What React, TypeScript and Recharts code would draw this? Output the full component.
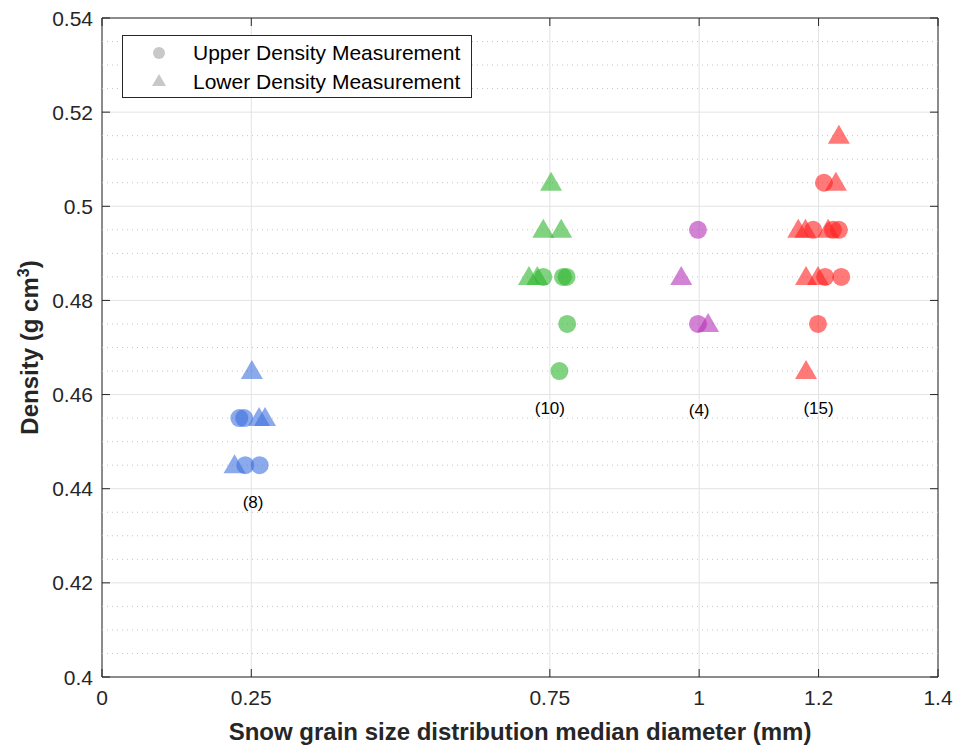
import {
  ScatterChart,
  Scatter,
  XAxis,
  YAxis,
  CartesianGrid,
  ReferenceLine,
  ReferenceArea,
  Legend,
} from 'recharts';

// grain size (mm) vs density, one pair of arrays per grain class
const blueUpper = [
  { x: 0.23, y: 0.455 },
  { x: 0.238, y: 0.455 },
  { x: 0.24, y: 0.445 },
  { x: 0.264, y: 0.445 },
];
const blueLower = [
  { x: 0.251, y: 0.465 },
  { x: 0.263, y: 0.455 },
  { x: 0.273, y: 0.455 },
  { x: 0.222, y: 0.445 },
];
const greenUpper = [
  { x: 0.739, y: 0.485 },
  { x: 0.772, y: 0.485 },
  { x: 0.778, y: 0.485 },
  { x: 0.779, y: 0.475 },
  { x: 0.766, y: 0.465 },
];
const greenLower = [
  { x: 0.752, y: 0.505 },
  { x: 0.739, y: 0.495 },
  { x: 0.769, y: 0.495 },
  { x: 0.715, y: 0.485 },
  { x: 0.729, y: 0.485 },
];
const purpleUpper = [
  { x: 0.998, y: 0.495 },
  { x: 0.998, y: 0.475 },
];
const purpleLower = [
  { x: 0.97, y: 0.485 },
  { x: 1.015, y: 0.475 },
];
const redUpper = [
  { x: 1.209, y: 0.505 },
  { x: 1.191, y: 0.495 },
  { x: 1.224, y: 0.495 },
  { x: 1.234, y: 0.495 },
  { x: 1.211, y: 0.485 },
  { x: 1.238, y: 0.485 },
  { x: 1.199, y: 0.475 },
];
const redLower = [
  { x: 1.234, y: 0.515 },
  { x: 1.229, y: 0.505 },
  { x: 1.166, y: 0.495 },
  { x: 1.178, y: 0.495 },
  { x: 1.216, y: 0.495 },
  { x: 1.179, y: 0.485 },
  { x: 1.199, y: 0.485 },
  { x: 1.179, y: 0.465 },
];

// sample counts written under each cluster
const countLabels = [
  { x: 0.253, y: 0.437, text: '(8)' },
  { x: 0.75, y: 0.457, text: '(10)' },
  { x: 1.0, y: 0.4566, text: '(4)' },
  { x: 1.2, y: 0.457, text: '(15)' },
];

const xTicks = [0, 0.25, 0.75, 1, 1.2, 1.4];
const yTicks = [0.4, 0.42, 0.44, 0.46, 0.48, 0.5, 0.52, 0.54];
const yMinor = [
  0.405, 0.41, 0.415, 0.425, 0.43, 0.435, 0.445, 0.45, 0.455, 0.465, 0.47,
  0.475, 0.485, 0.49, 0.495, 0.505, 0.51, 0.515, 0.525, 0.53, 0.535,
];

const W = 956;
const H = 747;
const LEFT = 102;
const RIGHT = 938;
const TOP = 18;
const BOTTOM = 677;
const FONT = '"Liberation Sans", Arial, Helvetica, sans-serif';
const INK = '#262626';

const Circle = (color: string) => (props: any) => {
  const { cx, cy } = props;
  return <circle cx={cx} cy={cy} r={9} fill={color} fillOpacity={0.6} />;
};

const Triangle = (color: string) => (props: any) => {
  const { cx, cy } = props;
  const pts = `${cx},${cy - 11} ${cx - 11},${cy + 8} ${cx + 11},${cy + 8}`;
  return <polygon points={pts} fill={color} fillOpacity={0.6} />;
};

const CountText = (props: any) => {
  const { cx, cy, payload } = props;
  return (
    <text
      x={cx}
      y={cy}
      textAnchor='middle'
      dominantBaseline='central'
      fontSize={17}
      fontFamily={FONT}
      fill='#000'
    >
      {payload.text}
    </text>
  );
};

const XTick = ({ x, payload }: any) => (
  <g>
    <line x1={x} x2={x} y1={BOTTOM} y2={BOTTOM - 8} stroke={INK} />
    <line x1={x} x2={x} y1={TOP} y2={TOP + 8} stroke={INK} />
    <text x={x} y={705} textAnchor='middle' fontSize={21} fontFamily={FONT} fill={INK}>
      {String(payload.value)}
    </text>
  </g>
);

const YTick = ({ y, payload }: any) => (
  <g>
    <line x1={LEFT} x2={LEFT + 8} y1={y} y2={y} stroke={INK} />
    <line x1={RIGHT} x2={RIGHT - 8} y1={y} y2={y} stroke={INK} />
    <text x={93} y={y} textAnchor='end' dominantBaseline='central' fontSize={21} fontFamily={FONT} fill={INK}>
      {String(payload.value)}
    </text>
  </g>
);

const XTitle = () => (
  <text x={(LEFT + RIGHT) / 2} y={740} textAnchor='middle' fontSize={24} fontWeight='bold' fontFamily={FONT} fill={INK}>
    Snow grain size distribution median diameter (mm)
  </text>
);

const YTitle = () => (
  <text
    transform={`translate(38, ${(TOP + BOTTOM) / 2}) rotate(-90)`}
    textAnchor='middle'
    fontSize={24}
    fontWeight='bold'
    fontFamily={FONT}
    fill={INK}
  >
    Density (g cm<tspan dy={-9} fontSize={16}>3</tspan>
    <tspan dy={9}>)</tspan>
  </text>
);

const LegendBox = () => (
  <div
    style={{
      border: '1px solid #262626',
      background: '#fff',
      width: 350,
      height: 63,
      fontFamily: FONT,
      fontSize: 21,
      color: '#000',
      boxSizing: 'border-box',
      paddingTop: 2,
    }}
  >
    {[
      { label: 'Upper Density Measurement', kind: 'circle' },
      { label: 'Lower Density Measurement', kind: 'triangle' },
    ].map((item) => (
      <div key={item.label} style={{ display: 'flex', alignItems: 'center', height: 29 }}>
        <svg width={70} height={24}>
          {item.kind === 'circle' ? (
            <circle cx={36} cy={12} r={6} fill='#c8c8c8' />
          ) : (
            <polygon points='36,4 29,16 43,16' fill='#c8c8c8' />
          )}
        </svg>
        <span>{item.label}</span>
      </div>
    ))}
  </div>
);

const series = [
  { name: 'blue-upper', data: blueUpper, shape: Circle('#3d72e0') },
  { name: 'blue-lower', data: blueLower, shape: Triangle('#3d72e0') },
  { name: 'green-upper', data: greenUpper, shape: Circle('#2db52d') },
  { name: 'green-lower', data: greenLower, shape: Triangle('#2db52d') },
  { name: 'purple-upper', data: purpleUpper, shape: Circle('#b530b5') },
  { name: 'purple-lower', data: purpleLower, shape: Triangle('#b530b5') },
  { name: 'red-upper', data: redUpper, shape: Circle('#ff2020') },
  { name: 'red-lower', data: redLower, shape: Triangle('#ff2020') },
];

export default function App() {
  return (
    <div style={{ position: 'absolute', left: 0, top: 0, width: W, height: H, background: '#fff' }}>
      <ScatterChart
        width={W}
        height={H}
        margin={{ top: TOP, right: W - RIGHT, left: 0, bottom: 0 }}
      >
        <CartesianGrid stroke='#e3e3e3' strokeWidth={1} />
        {yMinor.map((v) => (
          <ReferenceLine key={v} y={v} stroke='#c4c4c4' strokeDasharray='1 4' />
        ))}
        <XAxis
          type='number'
          dataKey='x'
          domain={[0, 1.4]}
          ticks={xTicks}
          allowDataOverflow
          height={H - BOTTOM}
          axisLine={false}
          tickLine={false}
          tickSize={0}
          tick={<XTick />}
          label={<XTitle />}
        />
        <YAxis
          type='number'
          dataKey='y'
          domain={[0.4, 0.54]}
          ticks={yTicks}
          allowDataOverflow
          width={LEFT}
          axisLine={false}
          tickLine={false}
          tickSize={0}
          tick={<YTick />}
          label={<YTitle />}
        />
        <ReferenceArea x1={0} x2={1.4} y1={0.4} y2={0.54} fill='none' stroke={INK} strokeWidth={1} />
        {series.map((s) => (
          <Scatter key={s.name} name={s.name} data={s.data} shape={s.shape} isAnimationActive={false} />
        ))}
        <Scatter name='counts' data={countLabels} shape={<CountText />} isAnimationActive={false} />
        <Legend
          layout='vertical'
          align='center'
          verticalAlign='middle'
          wrapperStyle={{ left: 122, top: 35, width: 350 }}
          content={<LegendBox />}
        />
      </ScatterChart>
    </div>
  );
}
